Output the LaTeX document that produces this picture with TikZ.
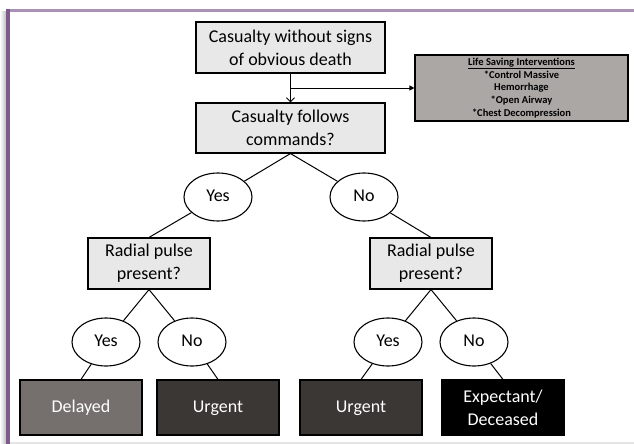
\documentclass[tikz,border=0pt]{standalone}
\usepackage{fontspec}
\setmainfont{Carlito}
\usetikzlibrary{arrows.meta,shapes.geometric}
\definecolor{boxgrey}{RGB}{232,232,232}
\definecolor{lsigrey}{RGB}{170,167,165}
\definecolor{delayedc}{RGB}{117,112,110}
\definecolor{urgentc}{RGB}{58,55,53}
\definecolor{frametop}{RGB}{168,145,180}
\definecolor{frameleft}{RGB}{125,92,140}
\tikzset{
  mainbox/.style={draw=black, line width=1.1pt, fill=boxgrey, align=center,
    font=\fontsize{18}{23}\selectfont, inner sep=0pt},
  answer/.style={draw=black, line width=1.1pt, fill=white, ellipse,
    minimum width=68pt, minimum height=48pt, inner sep=0pt,
    font=\fontsize{18}{22}\selectfont},
  outbox/.style={draw=black, line width=1.1pt, align=center, text=white,
    minimum width=122pt, minimum height=55pt, inner sep=0pt,
    font=\fontsize{18}{23}\selectfont},
  link/.style={line width=1pt, draw=black},
}
\begin{document}
\begin{tikzpicture}[x=1pt,y=-1pt]
\useasboundingbox (0,0) rectangle (634,444);
% frame
\shade[left color=white, right color=black!25] (0,12) rectangle (6,444);
\fill[frametop] (6,9) rectangle (634,12.5);
\fill[frameleft] (6,9) rectangle (9.5,444);
\fill[black!10] (9.5,441.5) rectangle (634,444);
% top boxes
\node[mainbox, minimum width=189pt, minimum height=51pt] (b1) at (290.5,47.5) {Casualty without signs\\of obvious death};
\node[mainbox, minimum width=189pt, minimum height=50pt] (b2) at (290.5,128) {Casualty follows\\commands?};
\node[draw=black, line width=1.1pt, fill=lsigrey, minimum width=213pt, minimum height=66pt,
  inner sep=0pt, align=center, font=\bfseries\fontsize{10.5}{12.8}\selectfont] (lsi) at (521.5,88)
  {\underline{Life Saving Interventions}\\*Control Massive\\Hemorrhage\\*Open Airway\\*Chest Decompression};
\coordinate (br) at (b1.south |- lsi.west);
\draw[link, -{Straight Barb[length=4pt,width=8pt]}] (b1.south) -- (b2.north);
\draw[link, -{Triangle[length=5pt,width=5pt]}] (br) -- (lsi.west);
% first answers
\node[answer] (y1) at (218,197) {Yes\strut};
\node[answer] (n1) at (364,197) {No\strut};
\draw[link] (b2.south) -- (y1);
\draw[link] (b2.south) -- (n1);
% radial boxes
\node[mainbox, minimum width=122pt, minimum height=51pt] (r1) at (149,263.5) {Radial pulse\\present?};
\node[mainbox, minimum width=122pt, minimum height=51pt] (r2) at (431,263.5) {Radial pulse\\present?};
\draw[link] (y1) -- (r1.north);
\draw[link] (n1) -- (r2.north);
% second answers
\node[answer] (y2) at (106,342) {Yes\strut};
\node[answer] (n2) at (192,342) {No\strut};
\node[answer] (y3) at (388,342) {Yes\strut};
\node[answer] (n3) at (474,342) {No\strut};
\draw[link] (r1.south) -- (y2);
\draw[link] (r1.south) -- (n2);
\draw[link] (r2.south) -- (y3);
\draw[link] (r2.south) -- (n3);
% outcomes
\node[outbox, fill=delayedc] (o1) at (81,407.5) {Delayed\strut};
\node[outbox, fill=urgentc] (o2) at (218,407.5) {Urgent\strut};
\node[outbox, fill=urgentc] (o3) at (361,407.5) {Urgent\strut};
\node[outbox, fill=black] (o4) at (503,407.5) {Expectant/\\Deceased};
\draw[link] (y2) -- (o1.north);
\draw[link] (n2) -- (o2.north);
\draw[link] (y3) -- (o3.north);
\draw[link] (n3) -- (o4.north);
\end{tikzpicture}
\end{document}
